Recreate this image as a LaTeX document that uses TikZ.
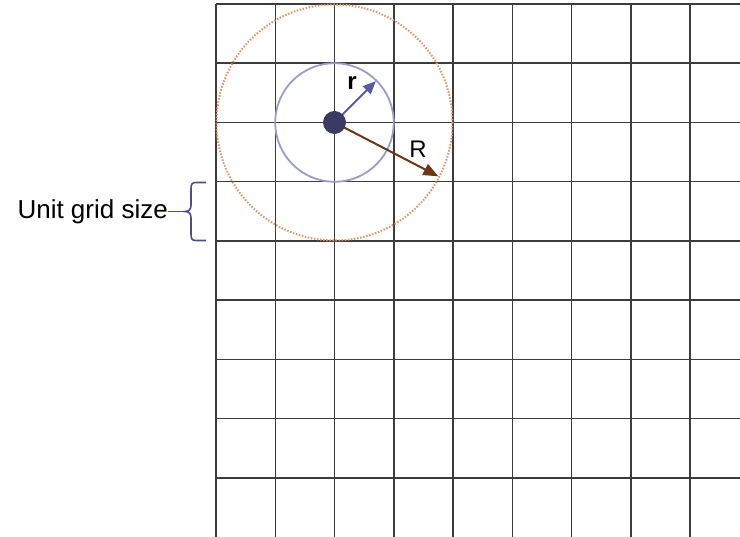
\documentclass[tikz,border=0pt]{standalone}
\usepackage{fontspec}
\setmainfont{Liberation Sans}
\usepackage{tikz}
\usetikzlibrary{arrows.meta,calc}
\definecolor{gdline}{HTML}{3C3C3C}
\definecolor{gdnavy}{HTML}{3A3A62}
\definecolor{gdviolet}{HTML}{5A5A9C}
\definecolor{gdlilac}{HTML}{9C9CCA}
\definecolor{gdbrown}{HTML}{6A3818}
\definecolor{gdorange}{HTML}{E39468}
\definecolor{gdbrace}{HTML}{4C4C8C}

\begin{document}
\begin{tikzpicture}[x=1pt, y=-1pt, font=\fontsize{26}{30}\selectfont]
  \useasboundingbox (0,0) rectangle (740,537);
  % the unit grid
  \foreach \k in {0,...,8} {
    \draw[gdline, line width=1.5pt] ({216+59.25*\k},4) -- ({216+59.25*\k},537);
    \draw[gdline, line width=1.5pt] (216,{4+59.25*\k}) -- (740,{4+59.25*\k});
  }
  % radii round the centre
  \coordinate (c) at (334.5,122.5);
  \draw[gdorange, line width=2pt, dash pattern=on 1.5pt off 1.6pt] (c) circle (118);
  \draw[gdlilac, line width=1.8pt] (c) circle (59.25);
  \coordinate (rtip) at ($(c)+(-45:58.5)$);
  \coordinate (Rtip) at ($(c)+(27.4:117)$);
  \draw[-{Triangle[length=13pt, width=11pt]}, gdviolet, line width=2pt] (c) -- (rtip);
  \draw[-{Triangle[length=15pt, width=12pt]}, gdbrown, line width=2pt] (c) -- (Rtip);
  \node[circle, fill=gdnavy, inner sep=0pt, minimum size=23pt] (dot) at (c) {};
  \node[font=\fontsize{24}{28}\selectfont\bfseries] (rlab) at (352,83) {r};
  \node[font=\fontsize{24}{28}\selectfont] (Rlab) at (418,149) {R};
  % the brace for one cell
  \coordinate (btip) at (185,211.5);
  \draw[gdbrace, line width=1.6pt] (206,182.5) -- (196,182.5)
    .. controls (192,182.5) and (191,184) .. (191,189) -- (191,205)
    .. controls (191,209.5) and (189,211.5) .. (btip)
    .. controls (189,211.5) and (191,213.5) .. (191,218) -- (191,234)
    .. controls (191,239) and (192,240.5) .. (196,240.5) -- (206,240.5);
  \node[anchor=east, inner sep=0pt] (unit) at (168,211.5) {Unit grid size};
  \draw[gdbrace, line width=1.6pt] (unit.east) -- (btip);
\end{tikzpicture}
\end{document}
